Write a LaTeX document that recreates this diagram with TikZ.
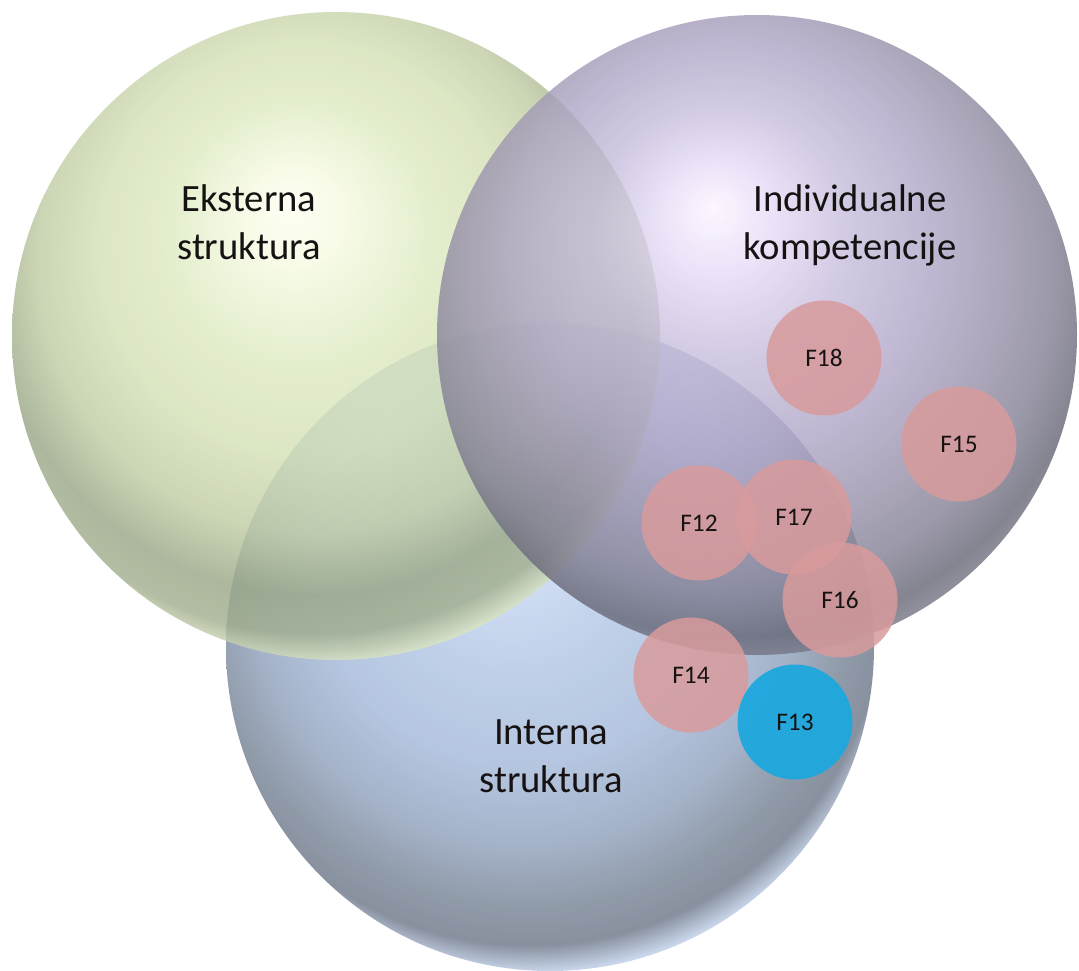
\documentclass[tikz,border=0pt]{standalone}
\usepackage{fontspec}
\setmainfont{Carlito}

% Sphere-like radial shadings: highlight up-left, darker band toward the lower right, light rim
\pgfdeclareradialshading{greenball}{\pgfpoint{-3.5bp}{10bp}}{%
  rgb(0bp)=(1,1,0.95);
  rgb(4bp)=(0.96,0.98,0.88);
  rgb(10bp)=(0.87,0.92,0.76);
  rgb(16bp)=(0.83,0.88,0.71);
  rgb(21bp)=(0.75,0.80,0.64);
  rgb(25bp)=(0.60,0.65,0.52);
  rgb(27.5bp)=(0.63,0.68,0.55);
  rgb(29.5bp)=(0.88,0.92,0.78);
  rgb(50bp)=(0.88,0.92,0.78)}
\pgfdeclareradialshading{purpleball}{\pgfpoint{-3.5bp}{10bp}}{%
  rgb(0bp)=(0.99,0.96,1);
  rgb(4bp)=(0.91,0.87,0.97);
  rgb(10bp)=(0.78,0.74,0.86);
  rgb(16bp)=(0.69,0.65,0.78);
  rgb(21bp)=(0.60,0.57,0.67);
  rgb(25bp)=(0.51,0.50,0.58);
  rgb(28bp)=(0.40,0.40,0.46);
  rgb(30bp)=(0.50,0.50,0.56);
  rgb(50bp)=(0.50,0.50,0.56)}
\pgfdeclareradialshading{blueball}{\pgfpoint{-3.5bp}{10bp}}{%
  rgb(0bp)=(0.82,0.88,0.97);
  rgb(5bp)=(0.76,0.83,0.94);
  rgb(10bp)=(0.69,0.77,0.89);
  rgb(16bp)=(0.64,0.72,0.85);
  rgb(21bp)=(0.56,0.63,0.74);
  rgb(25bp)=(0.46,0.51,0.58);
  rgb(27.5bp)=(0.42,0.46,0.53);
  rgb(29.5bp)=(0.78,0.85,0.96);
  rgb(50bp)=(0.78,0.85,0.96)}

\definecolor{factorpink}{RGB}{216,155,156}
\definecolor{factorblue}{RGB}{30,168,222}
\definecolor{labelink}{RGB}{22,18,18}

\begin{document}
\begin{tikzpicture}[x=0.75pt, y=-0.75pt,
  sphere/.style={circle, inner sep=0pt, draw=none, opacity=0.8},
  setlabel/.style={align=center, text=labelink, font=\fontsize{29}{36}\selectfont},
  factor/.style={circle, inner sep=0pt, minimum size=86.25pt, draw=none,
    fill=factorpink, fill opacity=0.85, text opacity=1, text=labelink,
    font=\fontsize{19}{22}\selectfont},
  keyfactor/.style={factor, fill=factorblue, fill opacity=0.95}]

  \fill[white] (0,0) rectangle (1079,971);
  \useasboundingbox (0,0) rectangle (1079,971);

  % the three sets
  \node[sphere, minimum size=486pt, shading=blueball]   (interna)    at (550,647) {};
  \node[sphere, minimum size=486pt, shading=greenball]  (eksterna)   at (336,336) {};
  \node[sphere, minimum size=480pt, shading=purpleball] (individual) at (757,335) {};

  % factors
  \node[factor]    (f18) at (824,358) {F18};
  \node[factor]    (f15) at (959,444) {F15};
  \node[factor]    (f12) at (699,523) {F12};
  \node[factor]    (f17) at (794,517) {F17};
  \node[factor]    (f16) at (840,600) {F16};
  \node[factor]    (f14) at (691,675) {F14};
  \node[keyfactor] (f13) at (795,722) {F13};

  % set names
  \node[setlabel] (lbl-eksterna) at (249,225.4) {\strut Eksterna\\\strut struktura};
  \node[setlabel] (lbl-individual) at (850,225.4) {\strut Individualne\\\strut kompetencije};
  \node[setlabel] (lbl-interna) at (551,758.4) {\strut Interna\\\strut struktura};
\end{tikzpicture}
\end{document}
